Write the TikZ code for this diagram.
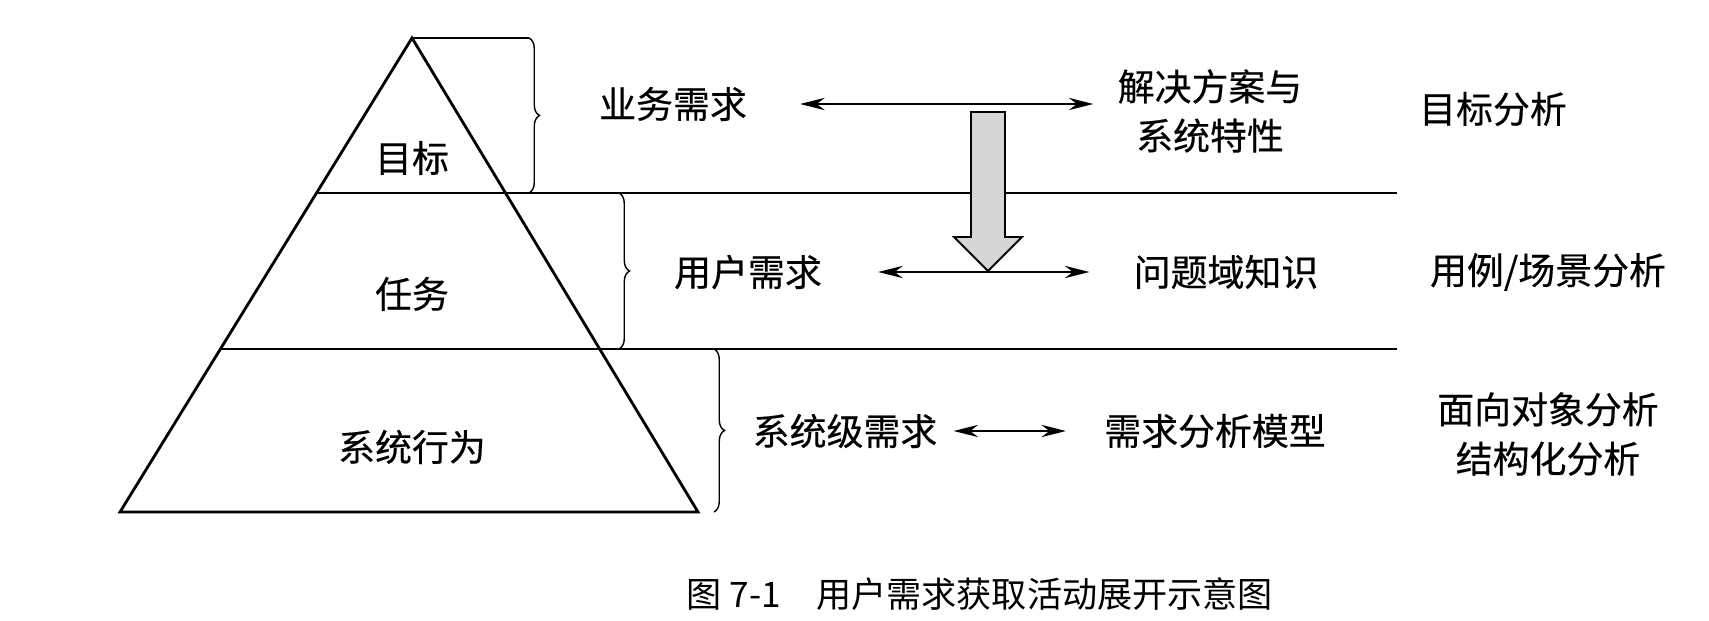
\documentclass[tikz,border=0pt]{standalone}
\usepackage{fontspec}
\setmainfont{Noto Sans CJK SC}
\newfontfamily\lblfont{Noto Sans CJK SC}[FakeBold=0.4]
\usetikzlibrary{arrows.meta,decorations.pathreplacing}
\begin{document}
\begin{tikzpicture}[x=0.02cm,y=-0.02cm,
  lbl/.style={font=\lblfont\fontsize{21}{28}\selectfont, inner sep=0pt, align=center},
  captxt/.style={font=\fontsize{20}{24}\selectfont, inner sep=0pt},
  tri/.style={line width=1.6pt, line join=miter},
  hline/.style={line width=1.1pt},
  brc/.style={decorate, decoration={brace, amplitude=6pt}, line width=0.8pt},
  dbl/.style={{Stealth[length=14pt,width=7pt]}-{Stealth[length=14pt,width=7pt]}, line width=0.9pt},
  blk/.style={draw, line width=1.1pt, fill=gray!32, line join=miter}]

\useasboundingbox (0,0) rectangle (1709,621);

% pyramid
\coordinate (A) at (412,38);
\coordinate (BL) at (120,512);
\coordinate (BR) at (698,512);
\coordinate (L1a) at (316.5,193);
\coordinate (L1b) at (1397,193);
\coordinate (L2a) at (220.4,349);
\coordinate (L2b) at (1397,349);
\draw[tri] (A) -- (BL) -- (BR) -- cycle;
\draw[hline] (L1a) -- (L1b);
\draw[hline] (L2a) -- (L2b);

% braces
\coordinate (b1t) at (529,38);
\coordinate (b1b) at (529,193);
\coordinate (b2t) at (619,193);
\coordinate (b2b) at (619,349);
\coordinate (b3t) at (714,349);
\coordinate (b3b) at (714,512);
\draw[line width=0.8pt] (A) -- (b1t);
\draw[brc] (b1t) -- (b1b);
\draw[brc] (b2t) -- (b2b);
\draw[brc] (b3t) -- (b3b);

% pyramid labels
\node[lbl] (mb) at (412,158) {目标};
\node[lbl] (rw) at (412,294) {任务};
\node[lbl] (xtxw) at (412,447) {系统行为};

% row 1
\node[lbl] (ywxq) at (673,104) {业务需求};
\node[lbl] (jjfa) at (1210,111) {解决方案与\\系统特性};
\node[lbl] (mbfx) at (1493,109) {目标分析};
\draw[dbl] ([xshift=1.06cm]ywxq.east) -- ([xshift=-0.48cm]ywxq.east -| jjfa.west);

% row 2
\node[lbl] (yhxq) at (748,272) {用户需求};
\node[lbl] (wtyzs) at (1226,272) {问题域知识};
\node[lbl] (ylfx) at (1548,272) {用例/场景分析};
\draw[dbl] ([xshift=1.12cm]yhxq.east) -- ([xshift=-0.88cm]wtyzs.west);

% row 3
\node[lbl] (xtjxq) at (845,431) {系统级需求};
\node[lbl] (xqfxmx) at (1215,431) {需求分析模型};
\node[lbl] (mxdx) at (1548,434) {面向对象分析\\结构化分析};
\draw[dbl] ([xshift=0.32cm]xtjxq.east) -- ([xshift=-0.76cm]xqfxmx.west);

% block arrow
\draw[blk] (971,112) -- (1005,112) -- (1005,237) -- (1022,237) -- (988,271)
  -- (954,237) -- (971,237) -- cycle;

% caption
\node[captxt] (capn) at (980,594) {图 7-1\quad 用户需求获取活动展开示意图};
\end{tikzpicture}
\end{document}
